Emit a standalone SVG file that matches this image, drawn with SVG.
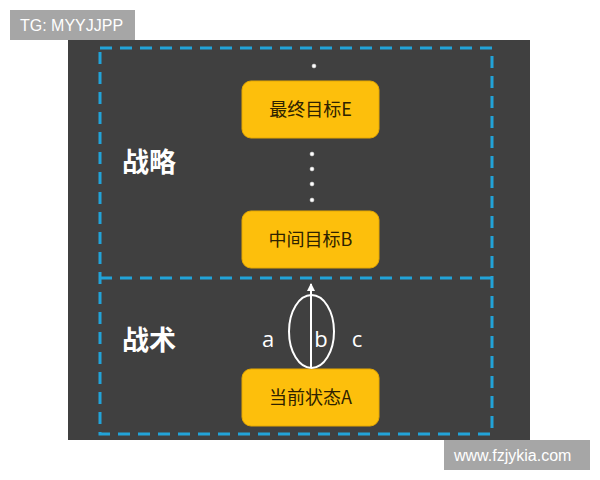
<svg xmlns="http://www.w3.org/2000/svg" width="600" height="480" viewBox="0 0 600 480">
<style>
.dash{fill:none;stroke:#22a3d8;stroke-width:3;stroke-dasharray:12 8}
.box{fill:#fdbf0c;stroke:#e6a800;stroke-width:1}
.bt{font-family:"Noto Sans CJK SC","Noto Sans",sans-serif;font-size:18px;fill:#2e2200;text-anchor:middle}
.big{font-family:"Noto Sans CJK SC",sans-serif;font-size:27px;font-weight:bold;fill:#ffffff}
.lab{font-family:"Open Sans","Noto Sans",sans-serif;font-size:22px;fill:#ffffff;text-anchor:middle}
.dot{fill:#ffffff;stroke:#cccccc;stroke-width:0.5}
.wm{font-family:"Liberation Sans",Arial,sans-serif;font-size:16px;fill:#ffffff}
</style>
<defs>
<marker id="ah" markerWidth="8" markerHeight="8" refX="7" refY="4" orient="auto" markerUnits="userSpaceOnUse">
<path d="M0,0 L8,4 L0,8 Z" fill="#ffffff"/>
</marker>
</defs>
<rect x="0" y="0" width="600" height="480" fill="#ffffff"/>
<rect x="68" y="40" width="462" height="400" fill="#404040"/>
<g id="frames">
<rect class="dash" x="100" y="48" width="392" height="386"/>
<line class="dash" x1="100" y1="278" x2="492" y2="278"/>
</g>
<g id="strategy"><text class="big" x="122" y="172">战略</text></g>
<g id="tactics"><text class="big" x="122" y="350">战术</text></g>
<g id="dots">
<circle class="dot" cx="314" cy="66" r="2"/>
<circle class="dot" cx="312" cy="154" r="2"/>
<circle class="dot" cx="312" cy="169" r="2"/>
<circle class="dot" cx="312" cy="184" r="2"/>
<circle class="dot" cx="312" cy="200" r="2"/>
</g>
<g id="nodeE"><rect class="box" x="242" y="81" width="137" height="57" rx="9"/><text class="bt" x="310.5" y="116">最终目标E</text></g>
<g id="nodeB"><rect class="box" x="242" y="211" width="137" height="57" rx="9"/><text class="bt" x="310.5" y="246">中间目标B</text></g>
<g id="nodeA"><rect class="box" x="242" y="369" width="137" height="57" rx="9"/><text class="bt" x="310.5" y="404">当前状态A</text></g>
<g id="connectors">
<ellipse cx="311.5" cy="331.5" rx="22.5" ry="36.5" fill="none" stroke="#ffffff" stroke-width="2"/>
<line x1="311" y1="368" x2="311" y2="284" stroke="#ffffff" stroke-width="2" marker-end="url(#ah)"/>
</g>
<g id="labels">
<text class="lab" x="268" y="347">a</text>
<text class="lab" x="321" y="347">b</text>
<text class="lab" x="357" y="347">c</text>
</g>
<g id="wm1"><rect x="10" y="10" width="125" height="30" fill="#a6a6a6"/><text class="wm" x="20" y="31">TG: MYYJJPP</text></g>
<g id="wm2"><rect x="444" y="440" width="146" height="30" fill="#a6a6a6"/><text class="wm" x="454" y="461">www.fzjykia.com</text></g>
</svg>
